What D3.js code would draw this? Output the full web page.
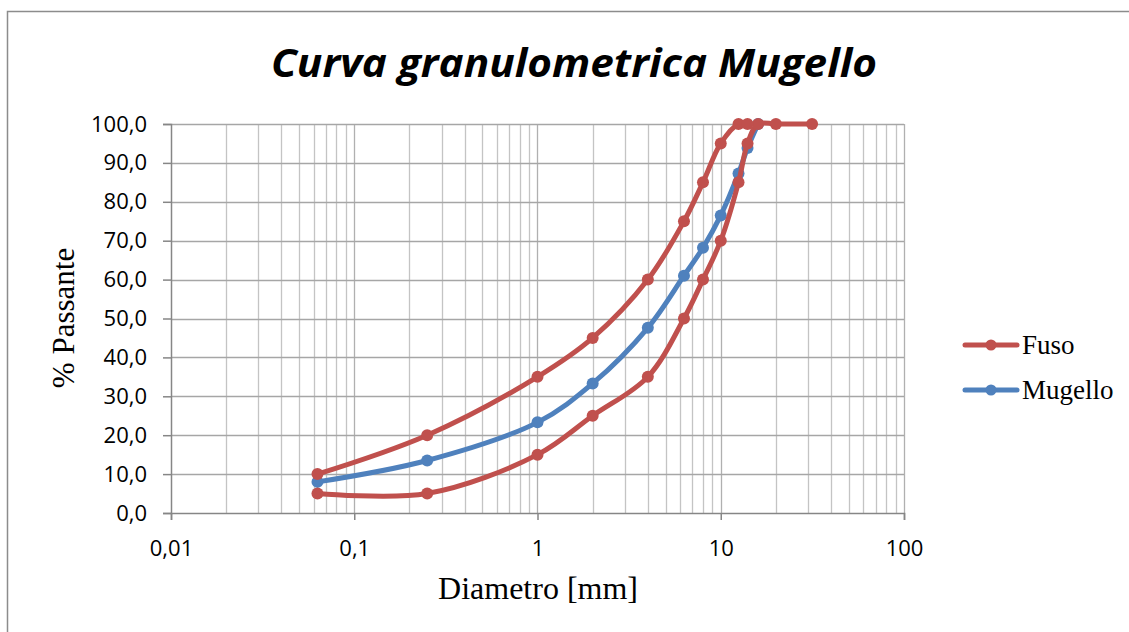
<!DOCTYPE html>
<html>
<head>
<meta charset="utf-8">
<script src="https://cdn.jsdelivr.net/npm/d3@7"></script>
<style>
  html, body { margin: 0; padding: 0; background: #fff; }
  svg { display: block; }
</style>
</head>
<body>
<svg id="chart" width="1129" height="632"></svg>
<script>
// ---------- data ----------
const diameters = [0.063, 0.25, 1, 2, 4, 6.3, 8, 10, 12.5, 14, 16, 20, 31.5];
const fusoLower = [5, 5, 15, 25, 35, 50, 60, 70, 85, 95, 100, 100, 100];
const fusoUpper = [10, 20, 35, 45, 60, 75, 85, 95, 100, 100, null, null, null];
const mugello   = [8, 13.5, 23.3, 33.3, 47.6, 61, 68.2, 76.5, 87.3, 93.8, 100, null, null];

const yTicks = [0, 10, 20, 30, 40, 50, 60, 70, 80, 90, 100];
const xTicks = [0.01, 0.1, 1, 10, 100];
const xTickLabels = ["0,01", "0,1", "1", "10", "100"];

const seriesNames = ["Fuso", "Mugello"];
const RED = "#C0504D", BLUE = "#4F81BD";

// ---------- layout ----------
const svg = d3.select("#chart");
const plot = { left: 171, right: 904, top: 124, bottom: 513 };

const x = d3.scaleLog().domain([0.01, 100]).range([plot.left, plot.right]);
const y = d3.scaleLinear().domain([0, 100]).range([plot.bottom, plot.top]);

// outer frame
svg.append("path")
  .attr("d", "M7.5,640 L7.5,11.5 L1140,11.5")
  .attr("fill", "none").attr("stroke", "#8c8c8c").attr("stroke-width", 1.5);

// title
svg.append("text")
  .attr("x", 574).attr("y", 77)
  .attr("text-anchor", "middle")
  .attr("font-family", "'Open Sans', 'Noto Sans', sans-serif")
  .attr("font-style", "italic").attr("font-weight", "bold")
  .attr("font-size", 40)
  .attr("textLength", 606).attr("lengthAdjust", "spacingAndGlyphs")
  .text("Curva granulometrica Mugello");

// ---------- grid ----------
const minor = [];
for (let e = -2; e < 2; e++) {
  for (let m = 2; m <= 9; m++) minor.push(m * Math.pow(10, e));
}
const grid = svg.append("g");
grid.selectAll("line.vminor").data(minor).enter().append("line")
  .attr("x1", d => Math.round(x(d)) + 0.5).attr("x2", d => Math.round(x(d)) + 0.5)
  .attr("y1", plot.top).attr("y2", plot.bottom)
  .attr("stroke", "#c4c4c4").attr("stroke-width", 1.3);
grid.selectAll("line.vmajor").data(xTicks.slice(1)).enter().append("line")
  .attr("x1", d => Math.round(x(d)) + 0.5).attr("x2", d => Math.round(x(d)) + 0.5)
  .attr("y1", plot.top).attr("y2", plot.bottom)
  .attr("stroke", "#b0b0b0").attr("stroke-width", 1.3);
grid.selectAll("line.h").data(yTicks.slice(1)).enter().append("line")
  .attr("x1", plot.left).attr("x2", plot.right)
  .attr("y1", d => Math.round(y(d)) + 0.5).attr("y2", d => Math.round(y(d)) + 0.5)
  .attr("stroke", "#a6a6a6").attr("stroke-width", 1.5);

// ---------- axes ----------
const axisColor = "#868686";
const tickFont = "'Open Sans', 'Noto Sans', sans-serif";

const yAxis = svg.append("g")
  .attr("transform", `translate(${plot.left},0)`)
  .call(d3.axisLeft(y).tickValues(yTicks).tickSize(8).tickPadding(16)
    .tickFormat(d => d3.format(".1f")(d).replace(".", ",")));
yAxis.select(".domain").attr("stroke", axisColor).attr("stroke-width", 1.5);
yAxis.selectAll(".tick line").attr("stroke", axisColor).attr("stroke-width", 1.5);
yAxis.selectAll(".tick text").attr("fill", "#000").attr("font-size", 22).attr("font-family", tickFont);

const xAxis = svg.append("g")
  .attr("transform", `translate(0,${plot.bottom})`)
  .call(d3.axisBottom(x).tickValues(xTicks).tickSize(7).tickPadding(20)
    .tickFormat((d, i) => xTickLabels[i]));
xAxis.select(".domain").attr("stroke", axisColor).attr("stroke-width", 1.5);
xAxis.selectAll(".tick line").attr("stroke", axisColor).attr("stroke-width", 1.5);
xAxis.selectAll(".tick text").attr("fill", "#000").attr("font-size", 22).attr("font-family", tickFont);

// axis titles
svg.append("text")
  .attr("transform", "translate(74,318) rotate(-90)")
  .attr("text-anchor", "middle")
  .attr("font-family", "'Liberation Serif', 'Times New Roman', serif")
  .attr("font-size", 31)
  .text("% Passante");
svg.append("text")
  .attr("x", 538).attr("y", 599)
  .attr("text-anchor", "middle")
  .attr("font-family", "'Liberation Serif', 'Times New Roman', serif")
  .attr("font-size", 32)
  .text("Diametro [mm]");

// ---------- series ----------
const toPts = vals => diameters.map((d, i) => [d, vals[i]]).filter(p => p[1] != null);

const line = d3.line()
  .x(d => x(d[0])).y(d => y(d[1]))
  .curve(d3.curveCatmullRom.alpha(0.5));

const series = [
  { pts: toPts(fusoLower), color: RED },
  { pts: toPts(fusoUpper), color: RED },
  { pts: toPts(mugello), color: BLUE },
];
// draw Mugello beneath Fuso
const order = [series[2], series[0], series[1]];

const marks = svg.append("g");
order.forEach(s => {
  marks.append("path")
    .datum(s.pts)
    .attr("d", line)
    .attr("fill", "none")
    .attr("stroke", s.color).attr("stroke-width", 5)
    .attr("stroke-linejoin", "round").attr("stroke-linecap", "round");
  marks.selectAll(null).data(s.pts).enter().append("circle")
    .attr("cx", d => x(d[0])).attr("cy", d => y(d[1]))
    .attr("r", 6).attr("fill", s.color);
});

// ---------- legend ----------
const legend = svg.append("g");
const legendColors = [RED, BLUE];
seriesNames.forEach((name, i) => {
  const ly = 345 + i * 45;
  legend.append("line")
    .attr("x1", 965).attr("x2", 1017).attr("y1", ly).attr("y2", ly)
    .attr("stroke", legendColors[i]).attr("stroke-width", 5).attr("stroke-linecap", "round");
  legend.append("circle").attr("cx", 991).attr("cy", ly).attr("r", 5.5).attr("fill", legendColors[i]);
  legend.append("text")
    .attr("x", 1022).attr("y", ly + 9)
    .attr("font-family", "'Liberation Serif', 'Times New Roman', serif")
    .attr("font-size", 27)
    .text(name);
});
</script>
</body>
</html>
